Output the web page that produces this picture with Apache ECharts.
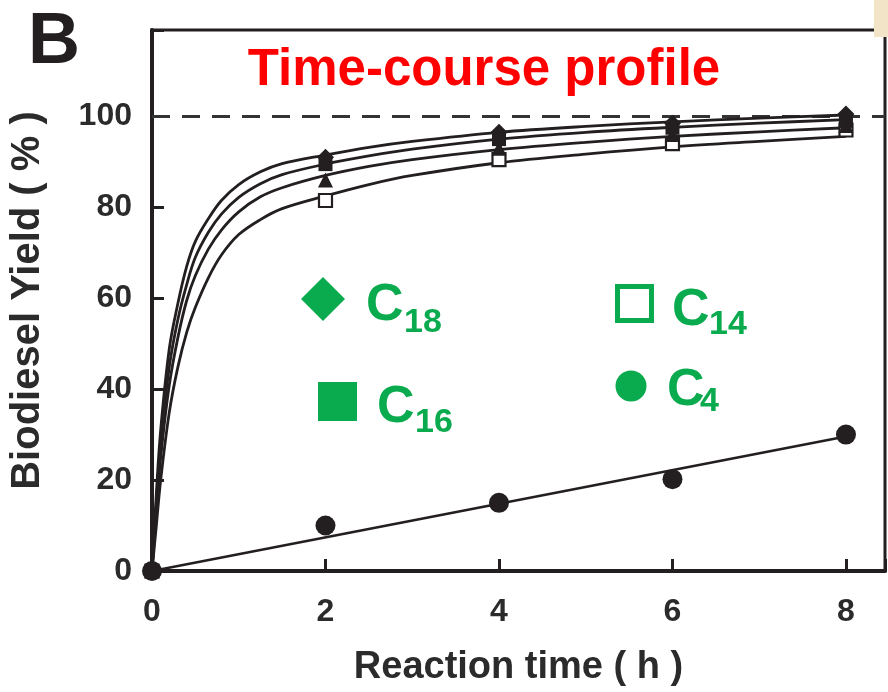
<!DOCTYPE html>
<html>
<head>
<meta charset="utf-8">
<script src="https://cdn.jsdelivr.net/npm/echarts@6/dist/echarts.min.js"></script>
<style>html,body{margin:0;padding:0;background:#fff}#c{width:888px;height:692px}</style>
</head>
<body>
<div id="c"></div>
<script>
// ---- data ----
const timesObs = [0, 2, 4, 6, 8];
const yieldC18 = [0, 91, 96.5, 98.5, 100.5];
const yieldC16 = [0, 89.5, 95, 97.5, 99];
const yieldTri = [0, 86, 93, 96, 98];
const yieldC14 = [0, 81.5, 90.5, 94, 97];
const yieldC4  = [0, 10, 15, 20.2, 30];

const curveX   = [0, 0.05, 0.1, 0.2, 0.3, 0.4, 0.5, 0.65, 0.8, 1, 1.25, 1.5, 2, 2.5, 3, 4, 5, 6, 7, 8];
const curve1   = [0, 17, 31, 49, 59, 67, 72.5, 77.5, 81.5, 85, 87.8, 89.6, 91.5, 93.2, 94.5, 96.5, 97.8, 98.8, 99.6, 100.3];
const curve2   = [0, 15, 28, 45, 55.5, 63, 69, 74.5, 78.5, 82.2, 85.2, 87.2, 89.5, 91.3, 92.8, 95, 96.5, 97.6, 98.5, 99.3];
const curve3   = [0, 13, 25, 41, 51.5, 59.5, 65, 70.8, 75, 79, 82.3, 84.3, 87, 89, 90.5, 92.7, 94.3, 95.6, 96.6, 97.5];
const curve4   = [0, 10, 20, 35, 45, 52.5, 58, 64.5, 69.5, 74, 77.3, 79.7, 82.5, 85, 87, 89.8, 91.7, 93.3, 94.5, 95.6];
const lineC4X  = [0, 8];
const lineC4Y  = [0, 29.6];
const refLevel = 100;
const xMax = 8.45, yMax = 119;

const legendNames = ['C', 'C', 'C', 'C'];
const legendSubs  = ['18', '16', '14', '4'];

const pairs = (xs, ys) => xs.map((x, i) => [x, ys[i]]);
const green = '#0aab4e';
const ink = '#231f20';
const font = '"Liberation Sans", Arial, sans-serif';

const chart = echarts.init(document.getElementById('c'), null, {renderer: 'canvas'});

const curveStyle = {color: ink, width: 2.8};
function curve(ys) {
  return {type: 'line', data: pairs(curveX, ys), smooth: 0.35, showSymbol: false, symbol: 'none',
    lineStyle: curveStyle, z: 3, silent: true};
}
function pts(ys, symbol, size, style) {
  return {type: 'scatter', data: pairs(timesObs, ys), symbol: symbol, symbolSize: size,
    itemStyle: Object.assign({opacity: 1}, style), z: 5, silent: true};
}

function legendGraphic() {
  const g = [];
  // symbols
  g.push({type: 'polygon', shape: {points: [[323, 277], [345, 299], [323, 321], [301, 299]]}, style: {fill: green}});
  g.push({type: 'rect', shape: {x: 318, y: 382, width: 39, height: 39}, style: {fill: green}});
  g.push({type: 'rect', shape: {x: 617.5, y: 286.5, width: 34, height: 34}, style: {fill: 'none', stroke: green, lineWidth: 5}});
  g.push({type: 'circle', shape: {cx: 631, cy: 386, r: 15.5}, style: {fill: green}});
  // [C x, C top, sub x, sub top]
  const pos = [[366, 280, 404, 306], [377, 382, 415, 406], [672, 285, 709, 308], [667, 365, 700, 385]];
  pos.forEach((p, i) => {
    g.push({type: 'text', x: p[0], y: p[1], style: {text: legendNames[i], fill: green,
      font: 'bold 52px ' + font, align: 'left', verticalAlign: 'top'}});
    g.push({type: 'text', x: p[2], y: p[3], style: {text: legendSubs[i], fill: green,
      font: 'bold 34px ' + font, align: 'left', verticalAlign: 'top'}});
  });
  // panel letter and title
  g.push({type: 'text', x: 28, y: 7, style: {text: 'B', fill: ink, font: 'bold 72px ' + font,
    align: 'left', verticalAlign: 'top'}});
  g.push({type: 'text', x: 484, y: 45, style: {text: 'Time-course profile', fill: '#ff0000',
    font: 'bold 51px ' + font, align: 'center', verticalAlign: 'top'}});
  // beige corner patch
  g.push({type: 'rect', shape: {x: 874, y: 0, width: 14, height: 37}, style: {fill: '#f2e4c6'}, z: 100});
  return g;
}

chart.setOption({
  animation: false,
  backgroundColor: '#fff',
  grid: {left: 150, right: 2, top: 30, bottom: 119, show: true, borderColor: ink, borderWidth: 3},
  xAxis: {
    type: 'value', min: 0, max: xMax, interval: 2,
    name: 'Reaction time ( h )', nameLocation: 'middle', nameGap: 78,
    nameTextStyle: {fontFamily: font, fontWeight: 'bold', fontSize: 38, color: '#2b2b2b'},
    axisLine: {lineStyle: {color: ink, width: 4}},
    axisTick: {inside: true, length: 12, lineStyle: {color: ink, width: 3}},
    axisLabel: {margin: 25, fontFamily: font, fontWeight: 'bold', fontSize: 32, color: '#2b2b2b',
      formatter: v => (Math.abs(v % 2) < 1e-9 ? String(v) : '')},
    splitLine: {show: false}
  },
  yAxis: {
    type: 'value', min: 0, max: yMax, interval: 20,
    name: 'Biodiesel Yield ( % )', nameLocation: 'middle', nameGap: 104, nameRotate: 90,
    nameTextStyle: {fontFamily: font, fontWeight: 'bold', fontSize: 40, color: '#2b2b2b'},
    axisLine: {lineStyle: {color: ink, width: 4}},
    axisTick: {inside: true, length: 12, lineStyle: {color: ink, width: 3}},
    axisLabel: {margin: 20, fontFamily: font, fontWeight: 'bold', fontSize: 32, color: '#2b2b2b',
      formatter: v => (Math.abs(v % 20) < 1e-9 ? String(v) : '')},
    splitLine: {show: false}
  },
  series: [
    {type: 'line', data: [[0, refLevel], [xMax, refLevel]], symbol: 'none', silent: true, z: 2,
      lineStyle: {color: '#333', width: 3, type: [18, 12]}},
    curve(curve1), curve(curve2), curve(curve3), curve(curve4),
    {type: 'line', data: pairs(lineC4X, lineC4Y), symbol: 'none', silent: true, z: 3,
      lineStyle: {color: ink, width: 2.6}},
    pts(yieldC14, 'rect', 13, {color: '#fff', borderColor: ink, borderWidth: 2.2}),
    pts(yieldTri, 'triangle', 15, {color: ink}),
    pts(yieldC16, 'rect', 14, {color: ink}),
    pts(yieldC18, 'diamond', 17, {color: ink}),
    pts(yieldC4, 'circle', 20, {color: ink})
  ],
  graphic: legendGraphic()
});
</script>
</body>
</html>
